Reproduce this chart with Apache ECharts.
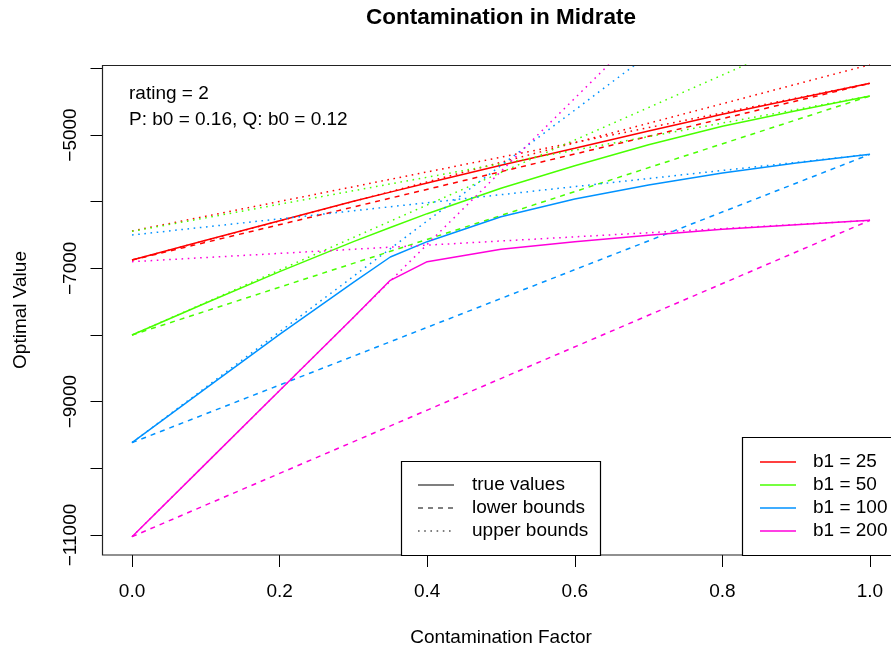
<!DOCTYPE html>
<html>
<head>
<meta charset="utf-8">
<script src="https://cdn.jsdelivr.net/npm/echarts@6/dist/echarts.min.js"></script>
<style>
html,body{margin:0;padding:0;background:#fff;}
#chart{width:891px;height:650px;}
</style>
</head>
<body>
<div id="chart"></div>
<script>
// ---- data ----
const xTrue = [0, 0.1, 0.2, 0.3, 0.35, 0.4, 0.5, 0.6, 0.7, 0.8, 0.9, 1.0];
const trueB25  = [-6875, -6580, -6285, -5995, -5857, -5720, -5455, -5200, -4940, -4690, -4455, -4225];
const trueB50  = [-8000, -7520, -7050, -6600, -6388, -6180, -5800, -5460, -5145, -4870, -4635, -4415];
const trueB100 = [-9615, -8800, -7990, -7210, -6830, -6600, -6225, -5960, -5750, -5570, -5420, -5290];
const trueB200 = [-11025, -9929, -8833, -7737, -7180, -6900, -6715, -6600, -6505, -6415, -6345, -6280];

const xBound = [0, 1];
const lowerB25  = [-6875, -4225];
const lowerB50  = [-8000, -4415];
const lowerB100 = [-9615, -5290];
const lowerB200 = [-11025, -6280];

// upper bounds: two segments each (from the left end and from the right end)
const upperLeftB25  = [-6875, -3945];
const upperLeftB50  = [-8000, -3125];
const upperLeftB100 = [-9615, -1300];
const upperLeftB200 = [-11025, -65];
const upperRightB25  = [-6440, -4225];
const upperRightB50  = [-6445, -4415];
const upperRightB100 = [-6500, -5290];
const upperRightB200 = [-6900, -6280];

const seriesNames = ['b1 = 25', 'b1 = 50', 'b1 = 100', 'b1 = 200'];
const xTicks = [0, 0.2, 0.4, 0.6, 0.8, 1.0];
const yTicks = [-11000, -10000, -9000, -8000, -7000, -6000, -5000, -4000];
const yLabels = [-11000, -9000, -7000, -5000];
const lineTypeNames = ['true values', 'lower bounds', 'upper bounds'];

// ---- styling ----
const colors = ['#FF0000', '#49FF00', '#0092FF', '#FF00DB'];
const FONT = '"Liberation Sans", Arial, Helvetica, sans-serif';
const DASH = [5, 5];
const DOT = [1.6, 4.6];
const LW = 1.5;

const trueSets = [trueB25, trueB50, trueB100, trueB200];
const lowerSets = [lowerB25, lowerB50, lowerB100, lowerB200];
const upLSets = [upperLeftB25, upperLeftB50, upperLeftB100, upperLeftB200];
const upRSets = [upperRightB25, upperRightB50, upperRightB100, upperRightB200];

const series = [];
function mk(name, xs, ys, color, dash) {
  return {
    name: name, type: 'line', showSymbol: false, symbol: 'none', silent: true,
    clip: true, animation: false,
    data: xs.map((x, i) => [x, ys[i]]),
    lineStyle: { color: color, width: LW, type: dash || 'solid' }
  };
}
for (let k = 0; k < 4; k++) {
  series.push(mk(seriesNames[k], xTrue, trueSets[k], colors[k]));
  series.push(mk(seriesNames[k] + ' lower', xBound, lowerSets[k], colors[k], DASH));
  series.push(mk(seriesNames[k] + ' upperL', xBound, upLSets[k], colors[k], DOT));
  series.push(mk(seriesNames[k] + ' upperR', xBound, upRSets[k], colors[k], DOT));
}

const graphics = [];
graphics.push({ type: 'text', x: 501, y: 18,
  style: { text: 'Contamination in Midrate', textAlign: 'center', textVerticalAlign: 'middle',
    font: 'bold 22.5px ' + FONT, fill: '#000' } });
graphics.push({ type: 'text', x: 501, y: 638,
  style: { text: 'Contamination Factor', textAlign: 'center', textVerticalAlign: 'middle',
    font: '19px ' + FONT, fill: '#000' } });
graphics.push({ type: 'text', x: 21, y: 310, rotation: Math.PI / 2,
  style: { text: 'Optimal Value', textAlign: 'center', textVerticalAlign: 'middle',
    font: '19px ' + FONT, fill: '#000' } });
graphics.push({ type: 'text', x: 129, y: 94,
  style: { text: 'rating = 2', textAlign: 'left', textVerticalAlign: 'middle', font: '19px ' + FONT, fill: '#000' } });
graphics.push({ type: 'text', x: 129, y: 120,
  style: { text: 'P: b0 = 0.16, Q: b0 = 0.12', textAlign: 'left', textVerticalAlign: 'middle', font: '19px ' + FONT, fill: '#000' } });

// plot box (extends past the right edge of the canvas, as in the reference)
graphics.push({ type: 'rect', shape: { x: 102.5, y: 65.5, width: 800, height: 489.5 },
  style: { fill: null, stroke: '#222', lineWidth: 1.2 }, z: 9 });

// line type legend
graphics.push({ type: 'rect', shape: { x: 401.5, y: 461.5, width: 199, height: 94 },
  style: { fill: '#fff', stroke: '#000', lineWidth: 1.2 }, z: 10 });
const ltDash = ['solid', DASH, DOT];
const ltY = [485, 508, 531];
for (let i = 0; i < 3; i++) {
  graphics.push({ type: 'line', shape: { x1: 418, y1: ltY[i], x2: 454, y2: ltY[i] },
    style: { stroke: '#000', lineWidth: 1.2, lineDash: ltDash[i] === 'solid' ? null : ltDash[i] }, z: 11 });
  graphics.push({ type: 'text', x: 472, y: ltY[i], z: 11,
    style: { text: lineTypeNames[i], textAlign: 'left', textVerticalAlign: 'middle', font: '19px ' + FONT, fill: '#000' } });
}
// colour legend
graphics.push({ type: 'rect', shape: { x: 742.5, y: 437.5, width: 200, height: 118 },
  style: { fill: '#fff', stroke: '#000', lineWidth: 1.2 }, z: 10 });
const clY = [462, 485, 508, 531];
for (let i = 0; i < 4; i++) {
  graphics.push({ type: 'line', shape: { x1: 760, y1: clY[i], x2: 796, y2: clY[i] },
    style: { stroke: colors[i], lineWidth: 1.5 }, z: 11 });
  graphics.push({ type: 'text', x: 813, y: clY[i], z: 11,
    style: { text: seriesNames[i], textAlign: 'left', textVerticalAlign: 'middle', font: '19px ' + FONT, fill: '#000' } });
}

const chart = echarts.init(document.getElementById('chart'), null, { renderer: 'canvas' });
chart.setOption({
  animation: false,
  backgroundColor: '#fff',
  grid: { left: 102.5, top: 65, right: 0, bottom: 95, show: false, containLabel: false },
  xAxis: {
    type: 'value', min: -0.04, max: 1.0285,
    axisLine: { show: false, onZero: false },
    splitLine: { show: false },
    axisTick: { show: true, inside: false, length: 12, customValues: xTicks, lineStyle: { color: '#000', width: 1 } },
    axisLabel: { show: true, customValues: xTicks, margin: 27, fontSize: 19, fontFamily: FONT, color: '#000',
      formatter: v => v.toFixed(1) }
  },
  yAxis: {
    type: 'value', min: -11300, max: -3950,
    axisLine: { show: false, onZero: false },
    splitLine: { show: false },
    axisTick: { show: true, inside: false, length: 12, customValues: yTicks, lineStyle: { color: '#000', width: 1 } },
    axisLabel: { show: true, customValues: yLabels, rotate: 90, margin: 22, fontSize: 19, fontFamily: FONT, color: '#000',
      formatter: v => (v < 0 ? '\u2212' : '') + Math.abs(v) }
  },
  series: series,
  graphic: graphics
});
</script>
</body>
</html>
